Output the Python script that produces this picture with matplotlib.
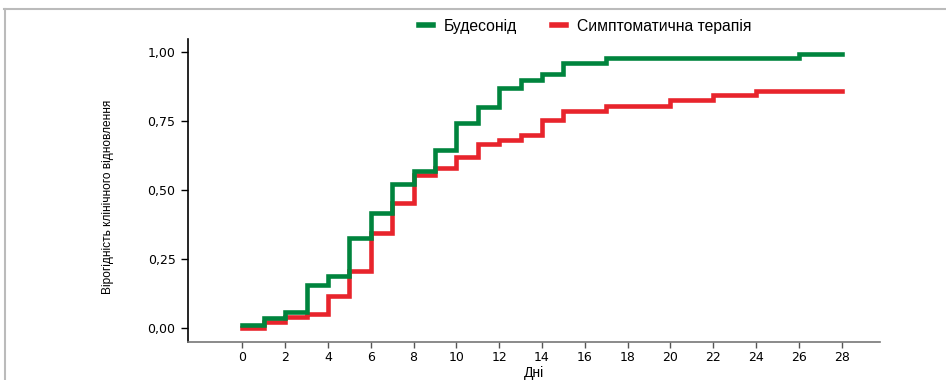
import numpy as np
import matplotlib.pyplot as plt
from matplotlib.lines import Line2D

# день зміни та ймовірність одужання (ступінчасті криві)
days_bud = [0, 1, 2, 3, 4, 5, 6, 7, 8, 9, 10, 11, 12, 13, 14, 15, 17, 26, 28]
prob_bud = [0.01, 0.035, 0.057, 0.156, 0.188, 0.325, 0.418, 0.52, 0.567, 0.645,
            0.744, 0.80, 0.87, 0.90, 0.92, 0.96, 0.977, 0.993, 0.993]

days_sym = [0, 1, 2, 3, 4, 5, 6, 7, 8, 9, 10, 11, 12, 13, 14, 15, 17, 20, 22, 24, 28]
prob_sym = [0.0, 0.023, 0.041, 0.051, 0.116, 0.207, 0.346, 0.454, 0.555, 0.58,
            0.62, 0.665, 0.68, 0.70, 0.754, 0.787, 0.804, 0.826, 0.844, 0.86, 0.86]

x_ticks = list(range(0, 29, 2))
y_ticks = [0, 0.25, 0.5, 0.75, 1.0]
y_labels = ['0,00', '0,25', '0,50', '0,75', '1,00']

green = '#00843d'
red = '#e8242c'
narrow = ['Liberation Sans', 'DejaVu Sans']

fig = plt.figure(figsize=(9.46, 3.8), dpi=100)
ax = fig.add_axes([188/946, 1 - 341.7/380, (880-188)/946, (341.7-39)/380])

ax.step(days_sym, prob_sym, where='post', color=red, lw=3.3,
        solid_joinstyle='miter', label='Симптоматична терапія')
ax.step(days_bud, prob_bud, where='post', color=green, lw=3.3,
        solid_joinstyle='miter', label='Будесонід')

ax.set_xlim(-2.54, 29.79)
ax.set_ylim(-0.0496, 1.047)
ax.set_xticks(x_ticks)
ax.set_yticks(y_ticks)
ax.set_yticklabels(y_labels)
ax.tick_params(axis='y', length=5, width=1, pad=4, labelsize=9, colors='black')
ax.tick_params(axis='x', length=4, width=1, pad=3, labelsize=9, color='#555555')

ax.spines['top'].set_visible(False)
ax.spines['right'].set_visible(False)
ax.spines['left'].set_color('black')
ax.spines['bottom'].set_color('#777777')
ax.spines['left'].set_linewidth(1.2)
ax.spines['bottom'].set_linewidth(1.2)

ax.set_xlabel('Дні', fontsize=10, family=narrow, labelpad=1)
ax.set_ylabel('Вірогідність клінічного відновлення', fontsize=8.6, family=narrow)
ax.yaxis.set_label_coords((114-188)/692, 0.48)

handles, labels = ax.get_legend_handles_labels()
leg = fig.legend(handles[::-1], labels[::-1], loc='center', ncol=2, frameon=False,
                 bbox_to_anchor=(585/946, 1 - 26/380), handlelength=0.9,
                 handletextpad=0.7, columnspacing=2.2,
                 prop={'family': narrow, 'size': 11.3})
for h in leg.get_lines():
    h.set_linewidth(4)

# сіра рамка зверху та зліва
fig.add_artist(Line2D([4/946, 1], [1 - 9/380, 1 - 9/380], color='#bbbbbb', lw=1.5))
fig.add_artist(Line2D([4.5/946, 4.5/946], [0, 1 - 9/380], color='#bbbbbb', lw=1.5))

fig.savefig('out.png', dpi=100)
